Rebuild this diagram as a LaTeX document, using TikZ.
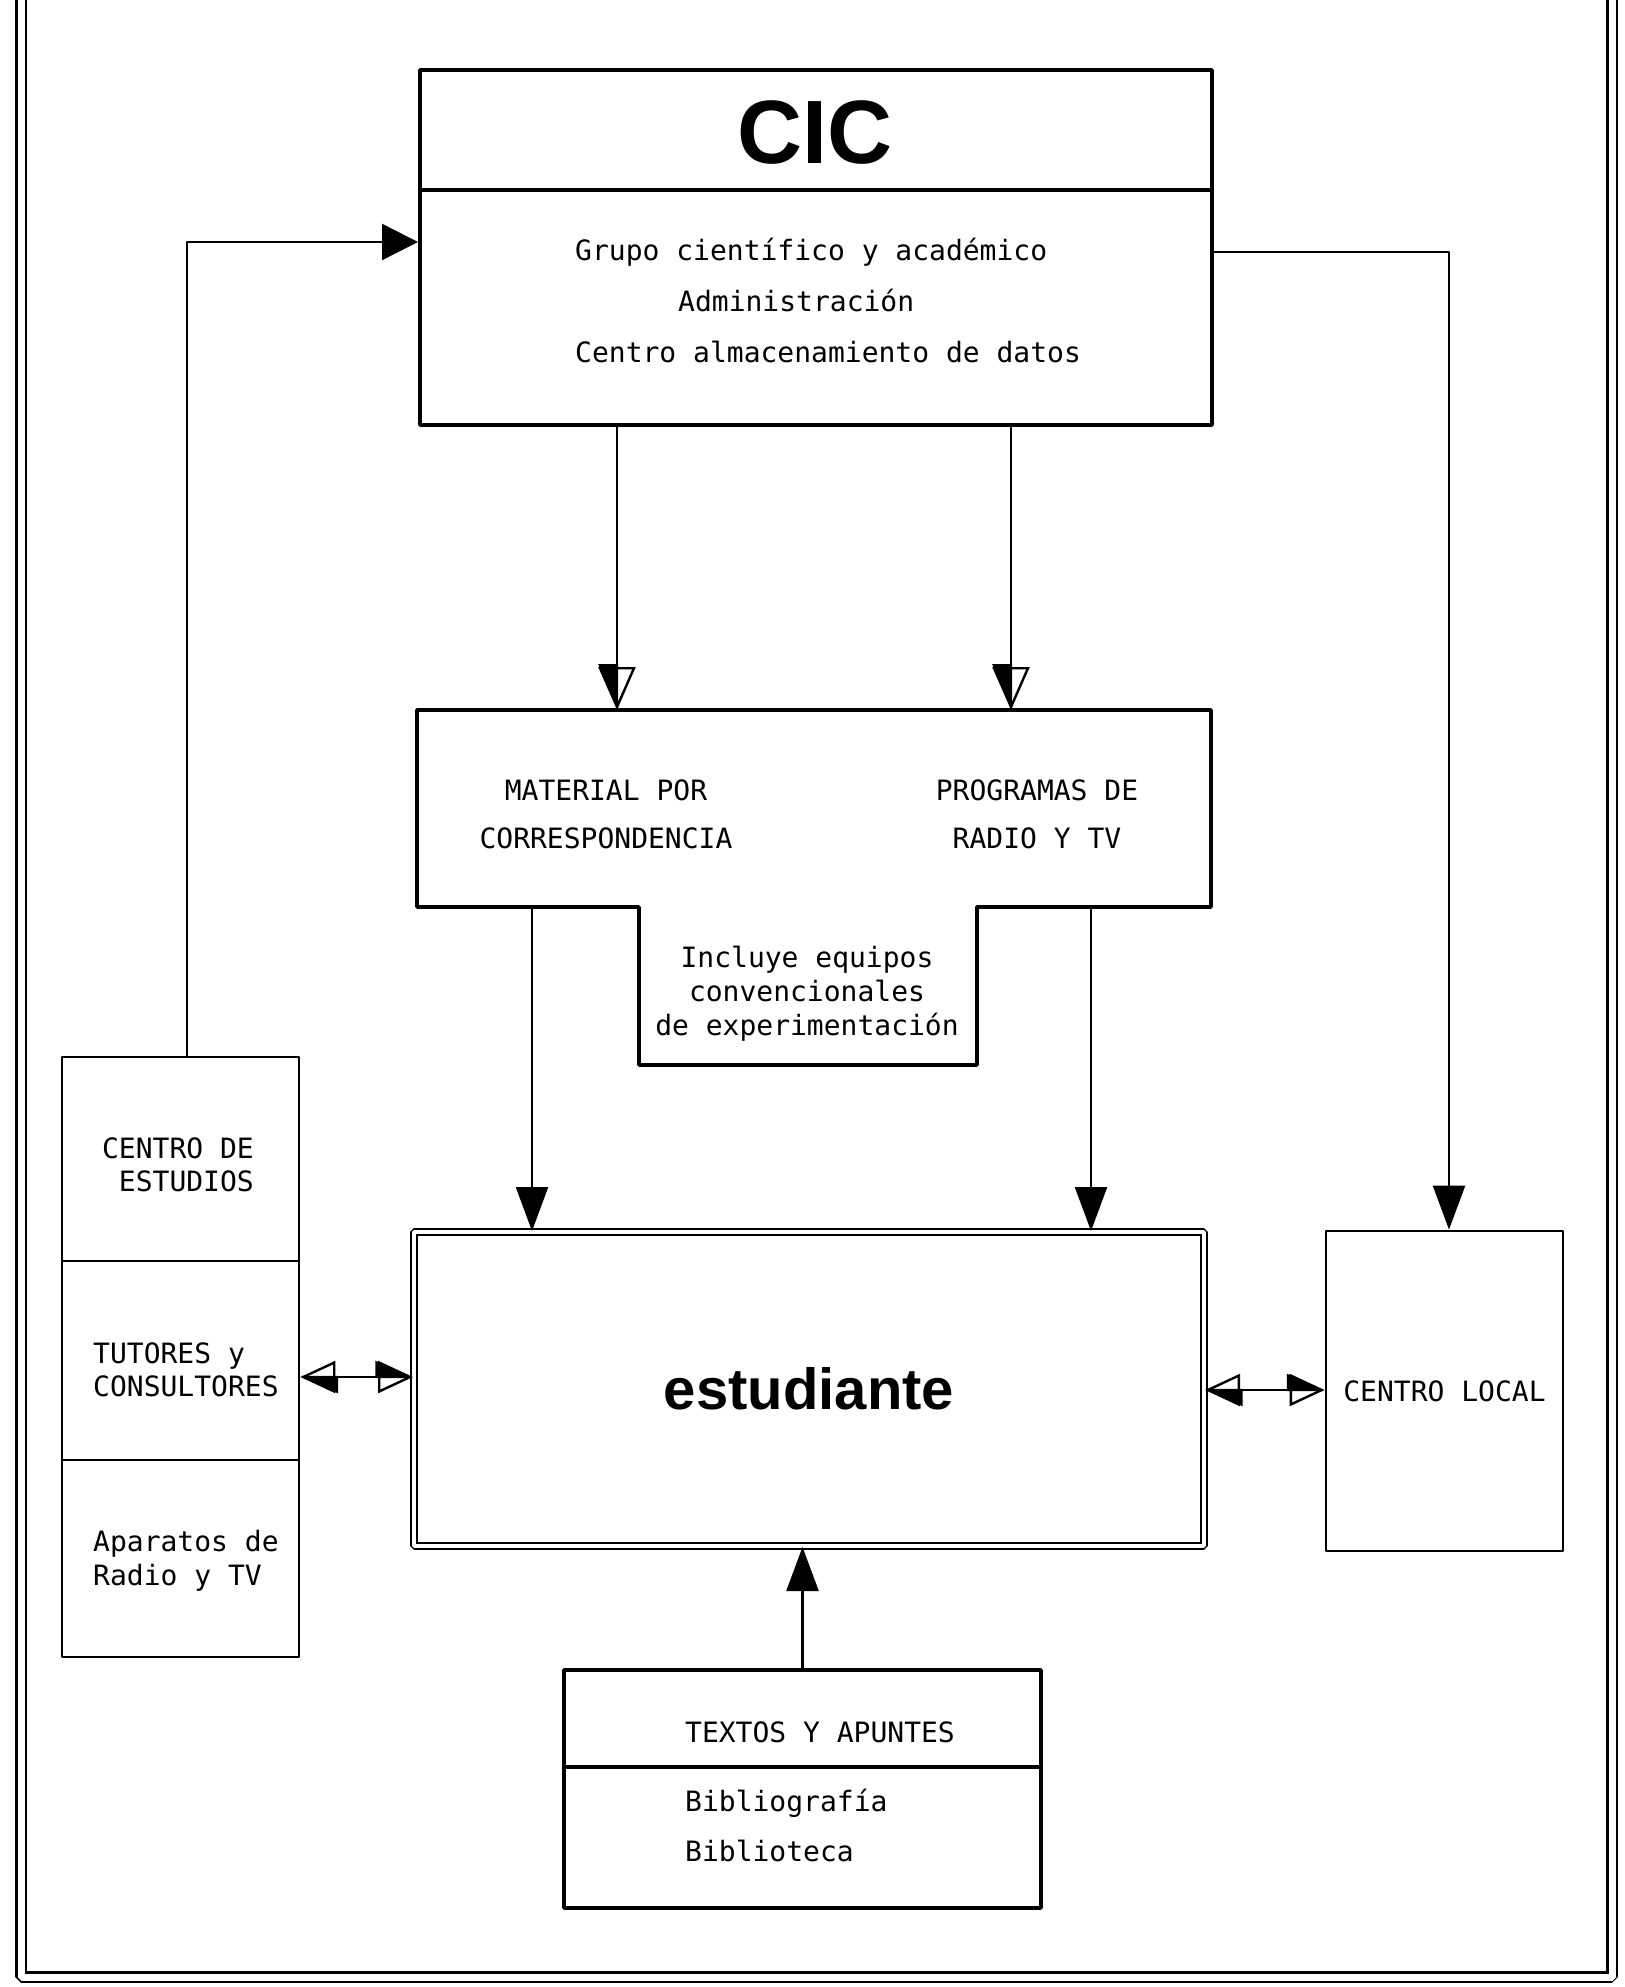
\documentclass[tikz,border=0pt]{standalone}
\usepackage{fontspec}
\newfontfamily\typefont{DejaVu Sans Mono}
\newfontfamily\headfont{Liberation Sans}
\usepackage{tikz}
\usetikzlibrary{arrows.meta}

\tikzset{
  box/.style={draw,line width=4pt,inner sep=0pt},
  slimbox/.style={draw,line width=2.8pt,inner sep=0pt},
  txt/.style={inner sep=0pt,font=\typefont\fontsize{28}{#1}\selectfont},
  txt/.default=34,
  link/.style={line width=2.4pt},
  fullhead/.style={link,-{Triangle[length=44pt,width=32pt]}},
  bighead/.style={link,-{Triangle[length=36pt,width=36pt]}},
  halfhead/.style={link,-{Triangle[right,length=43pt,width=37pt,sep=-43pt]Triangle[open,length=43pt,width=37pt]}},
  bothhead/.style={link,{Triangle[open,length=35pt,width=32pt]Triangle[left,length=35pt,width=32pt,sep=-35pt]}-{Triangle[left,length=35pt,width=32pt,sep=-35pt]Triangle[open,length=35pt,width=32pt]}},
}

\begin{document}
\begin{tikzpicture}[x=1pt,y=-1pt,line join=bevel]
\useasboundingbox (0,0) rectangle (1625,1987);
%%
  \draw [line width=2.5pt,double,double distance=7pt] (21,0) -- (21,1977) -- (1612,1977) -- (1612,0);
%% CIC
  \node (cic) at (816,247.5) [box,minimum width=792pt,minimum height=355pt] {};
  \draw [line width=4pt] (cic.west |- 0,190) -- (cic.east |- 0,190);
  \node (cictitle) at (815,133) [font=\headfont\bfseries\fontsize{90}{90}\selectfont] {CIC};
  \node (grupo) at (575,260) [txt,anchor=base west] {Grupo científico y académico};
  \node (admin) at (678,311) [txt,anchor=base west] {Administración};
  \node (datos) at (575,362) [txt,anchor=base west] {Centro almacenamiento de datos};
%% material
  \draw [line width=4pt] (417,710) -- (1211,710) -- (1211,907) -- (977,907) -- (977,1065) -- (639,1065) -- (639,907) -- (417,907) -- cycle;
  \node (mat) at (606,814) [txt=48,align=center] {MATERIAL POR\\CORRESPONDENCIA};
  \node (prog) at (1037,814) [txt=48,align=center] {PROGRAMAS DE\\RADIO Y TV};
  \node (equip) at (807,994) [txt=34,align=center] {Incluye equipos\\convencionales\\de experimentación};
%% estudiante
  \node (est) at (809,1389) [draw,double,double distance=4pt,line width=2pt,minimum width=790pt,minimum height=314pt,font=\headfont\bfseries\fontsize{58}{58}\selectfont] {estudiante};
%% left column
  \node (col) at (180.5,1357) [slimbox,minimum width=237pt,minimum height=600pt] {};
  \draw [line width=2.8pt] (col.west |- 0,1261) -- (col.east |- 0,1261);
  \draw [line width=2.8pt] (col.west |- 0,1460) -- (col.east |- 0,1460);
  \node (estud) at (254,1165) [txt=33,align=right,anchor=east] {CENTRO DE\\ESTUDIOS};
  \node (tutor) at (93,1370) [txt=33,align=left,anchor=west] {TUTORES y\\CONSULTORES};
  \node (radio) at (93,1561) [txt=34,align=left,anchor=west] {Aparatos de\\Radio y TV};
%% centro local
  \node (local) at (1444.5,1391) [slimbox,txt,minimum width=237pt,minimum height=320pt] {CENTRO LOCAL};
%% textos
  \node (tex) at (802.5,1789) [box,minimum width=477pt,minimum height=238pt] {};
  \draw [line width=4pt] (tex.west |- 0,1767) -- (tex.east |- 0,1767);
  \node (apun) at (820,1732) [txt] {TEXTOS Y APUNTES};
  \node (bib) at (685,1825) [txt=50,align=left,anchor=west] {Bibliografía\\Biblioteca};
%% connectors
  \coordinate (fb) at (187,242);
  \coordinate (rb) at (1449,252);
  \coordinate (ma) at (617,710);
  \coordinate (mb) at (1011,710);
  \coordinate (mc) at (532,907);
  \coordinate (md) at (1091,907);
  \coordinate (bl) at (0,1377);
  \coordinate (br) at (0,1390);
  \draw [bighead] (col.north -| fb) |- (cic.west |- fb);
  \draw [fullhead] (cic.east |- rb) -| (local.north -| rb);
  \draw [halfhead] (cic.south -| ma) -- (ma);
  \draw [halfhead] (cic.south -| mb) -- (mb);
  \draw [fullhead] (mc) -- (est.north -| mc);
  \draw [fullhead] (md) -- (est.north -| md);
  \draw [bothhead] (col.east |- bl) -- (est.west |- bl);
  \draw [bothhead] (est.east |- br) -- (local.west |- br);
  \draw [fullhead] (tex.north) -- (tex.north |- est.south);
%
\end{tikzpicture}
\end{document}
